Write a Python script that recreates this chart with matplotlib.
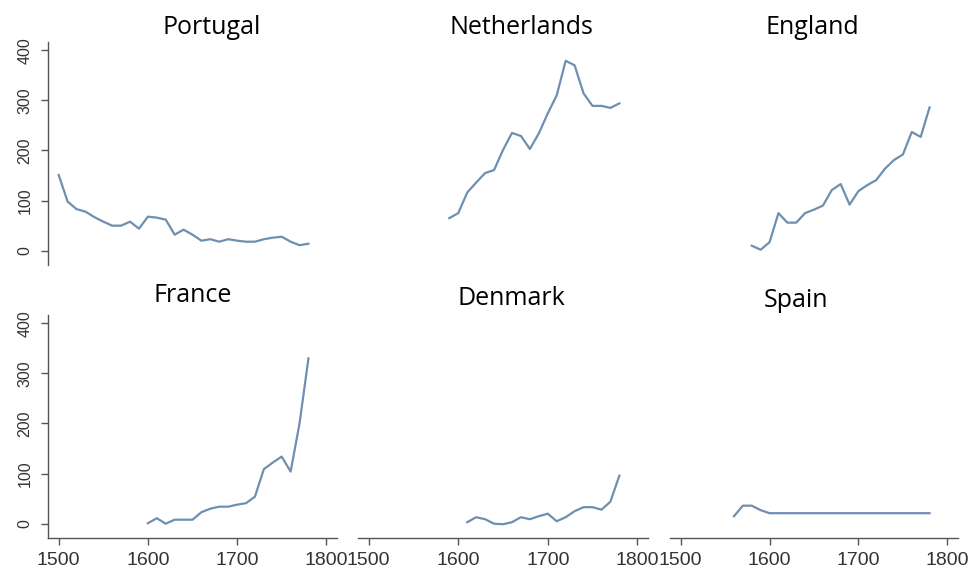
import matplotlib
matplotlib.use("Agg")
import matplotlib.pyplot as plt

decades = list(range(1500, 1790, 10))

portugal_years = decades
portugal = [151, 98, 83, 78, 67, 58, 50, 50, 58, 44, 68, 66, 62, 32, 42, 32,
            20, 23, 18, 23, 20, 18, 18, 23, 26, 28, 18, 11, 14]

netherlands_years = list(range(1590, 1790, 10))
netherlands = [65, 75, 116, 136, 155, 161, 201, 235, 229, 203, 234, 274, 310,
               379, 370, 314, 289, 289, 285, 294]

england_years = list(range(1580, 1790, 10))
england = [10, 2, 17, 75, 56, 56, 75, 82, 90, 121, 133, 92, 119, 131, 141,
           164, 181, 192, 237, 227, 286]

france_years = list(range(1600, 1790, 10))
france = [1, 11, 0, 8, 8, 8, 23, 30, 34, 34, 38, 41, 54, 109, 122, 134, 104,
          200, 330]

denmark_years = list(range(1610, 1790, 10))
denmark = [3, 13, 9, 0, -1, 3, 13, 9, 15, 20, 5, 13, 25, 33, 33, 28, 44, 96]

spain_years = list(range(1560, 1790, 10))
spain = [15, 36, 36, 27, 21, 21, 21, 21, 21, 21, 21, 21, 21, 21, 21, 21, 21,
         21, 21, 21, 21, 21, 21]

titles = ["Portugal", "Netherlands", "England", "France", "Denmark", "Spain"]
series = [(portugal_years, portugal), (netherlands_years, netherlands),
          (england_years, england), (france_years, france),
          (denmark_years, denmark), (spain_years, spain)]
x_ticks = [1500, 1600, 1700, 1800]
y_ticks = [0, 100, 200, 300, 400]

W, H = 972, 572
fig = plt.figure(figsize=(W / 100, H / 100), dpi=100)
fig.patch.set_facecolor("white")

col_px = [(48, 337), (358, 648), (670, 958)]
row_px = [(42, 265), (315, 538)]
title_pos = [(212, 34), (521, 34), (812, 34), (193, 302), (511, 305), (796, 307)]

line_color = "#6f8fb0"
axis_color = "#555555"
label_color = "#333333"

for i, (title, (xs, ys)) in enumerate(zip(titles, series)):
    r, c = divmod(i, 3)
    x0, x1 = col_px[c]
    y0, y1 = row_px[r]
    ax = fig.add_axes([x0 / W, 1 - y1 / H, (x1 - x0) / W, (y1 - y0) / H])
    ax.plot(xs, ys, color=line_color, lw=1.6, solid_joinstyle="round")
    ax.set_xlim(1488, 1812)
    ax.set_ylim(-28.5, 416.5)
    for s in ["top", "right"]:
        ax.spines[s].set_visible(False)
    ax.spines["left"].set_visible(c == 0)
    ax.spines["bottom"].set_visible(r == 1)
    for s in ["left", "bottom"]:
        ax.spines[s].set_color(axis_color)
        ax.spines[s].set_linewidth(1.0)
    ax.set_facecolor("none")
    if c == 0:
        ax.set_yticks(y_ticks)
        ax.set_yticklabels([str(v) for v in y_ticks], rotation=90, va="center",
                           family="Liberation Sans", fontsize=11.5, color=label_color)
        ax.tick_params(axis="y", length=5, width=1.0, color=axis_color, pad=6)
    else:
        ax.set_yticks([])
    if r == 1:
        ax.set_xticks(x_ticks)
        ax.set_xticklabels([str(v) for v in x_ticks], family="Liberation Sans",
                           fontsize=14, color=label_color)
        ax.tick_params(axis="x", length=5, width=1.0, color=axis_color, pad=5)
    else:
        ax.set_xticks([])
    tx, ty = title_pos[i]
    fig.text(tx / W, 1 - ty / H, title, ha="center", va="baseline",
             family="Open Sans", fontsize=18, color="black")

fig.savefig("out.png", dpi=100, facecolor="white")
